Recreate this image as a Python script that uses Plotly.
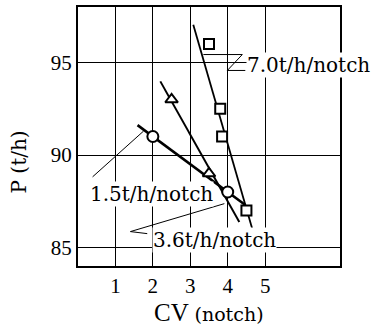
import numpy as np
import plotly.graph_objects as go

# Measured points
sq_cv = [3.5, 3.8, 3.85, 4.5]
sq_p = [96.0, 92.5, 91.0, 87.0]
tri_cv = [2.5, 3.5]
tri_p = [93.0, 89.0]
cir_cv = [2.0, 4.0]
cir_p = [91.0, 88.0]

# Fitted lines: slope (t/h per notch), intercept, CV extent
fit_slopes = [-7.0, -3.6, -1.5]
fit_intercepts = [118.6, 101.9, 94.0]
fit_x_start = [3.08, 2.2, 1.59]
fit_x_end = [4.68, 4.31, 4.47]
fit_widths = [1.8, 2.0, 2.6]
fit_labels = ["7.0t/h/notch", "3.6t/h/notch", "1.5t/h/notch"]

x_ticks = [1, 2, 3, 4, 5]
y_ticks = [85, 90, 95]

fig = go.Figure()

for k, b, x0, x1, w in zip(fit_slopes, fit_intercepts, fit_x_start, fit_x_end, fit_widths):
    xs = np.array([x0, x1])
    fig.add_trace(go.Scatter(x=xs, y=b + k * xs, mode="lines",
                             line=dict(color="black", width=w), showlegend=False))

marker_common = dict(color="white", line=dict(color="black", width=2))
fig.add_trace(go.Scatter(x=sq_cv, y=sq_p, mode="markers", showlegend=False,
                         marker=dict(symbol="square", size=10, **marker_common)))
fig.add_trace(go.Scatter(x=tri_cv, y=tri_p, mode="markers", showlegend=False,
                         marker=dict(symbol="triangle-up", size=11, **marker_common)))
fig.add_trace(go.Scatter(x=cir_cv, y=cir_p, mode="markers", showlegend=False,
                         marker=dict(symbol="circle", size=11, **marker_common)))

lead = dict(color="black", width=1)
# leader lines from labels to their fitted lines
fig.add_shape(type="path", xref="x", yref="y", line=lead,
              path="M 3.35 95.43 L 4.39 95.43 L 3.99 94.57 L 4.47 94.57")
fig.add_shape(type="line", xref="x", yref="y", line=lead,
              x0=0.39, y0=88.82, x1=1.75, y1=91.29)
fig.add_shape(type="path", xref="x", yref="y", line=lead,
              path="M 3.91 87.37 L 1.4 85.86 L 1.85 85.75")

lab_font = dict(family="DejaVu Serif", size=20, color="black")
fig.add_annotation(x=4.49, y=94.84, text=fit_labels[0], showarrow=False,
                   xanchor="left", yanchor="middle", font=lab_font,
                   bgcolor="white", borderpad=0)
fig.add_annotation(x=3.65, y=85.38, text=fit_labels[1], showarrow=False,
                   xanchor="center", yanchor="middle", font=lab_font,
                   bgcolor="white", borderpad=0)
fig.add_annotation(x=1.97, y=87.9, text=fit_labels[2], showarrow=False,
                   xanchor="center", yanchor="middle", font=lab_font,
                   bgcolor="white", borderpad=0)

# axis titles
fig.add_annotation(xref="paper", yref="paper", x=0.5, y=-0.178, showarrow=False,
                   xanchor="center", yanchor="middle",
                   text="CV <span style='font-size:19px;font-family:DejaVu Serif'>(notch)</span>",
                   font=dict(family="Liberation Serif", size=25, color="black"))
fig.add_annotation(xref="paper", yref="paper", x=-0.225, y=0.40, showarrow=False,
                   xanchor="center", yanchor="middle", textangle=-90,
                   text="P (t/h)",
                   font=dict(family="DejaVu Serif", size=20, color="black"))

axis_common = dict(showline=True, linecolor="black", linewidth=2, mirror=True,
                   showgrid=True, gridcolor="black", gridwidth=1, ticks="",
                   zeroline=False,
                   tickfont=dict(family="Liberation Serif", size=21, color="black"))
fig.update_xaxes(range=[0, 7], tickvals=x_ticks, ticktext=[str(v) for v in x_ticks], **axis_common)
fig.update_yaxes(range=[84, 98], tickvals=y_ticks, ticktext=[str(v) for v in y_ticks], **axis_common)

fig.update_layout(width=379, height=327, margin=dict(l=78, r=39, t=5, b=61),
                  plot_bgcolor="white", paper_bgcolor="white")

fig.write_html("out.html")
